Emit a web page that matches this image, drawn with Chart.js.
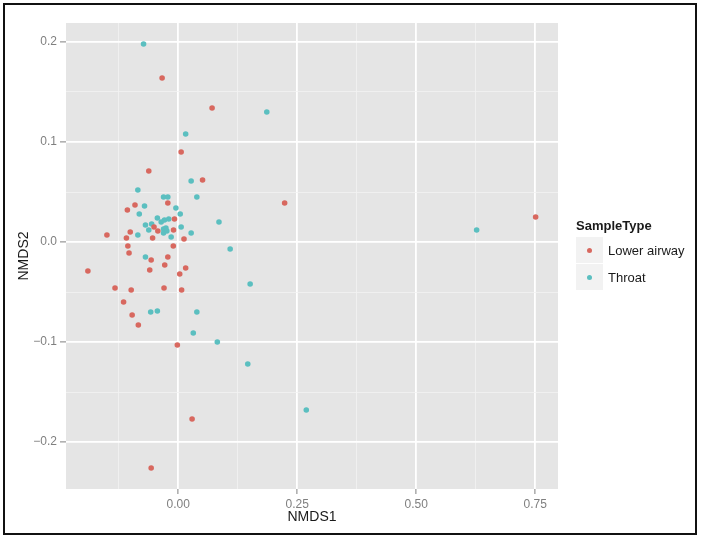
<!DOCTYPE html>
<html>
<head>
<meta charset="utf-8">
<script src="https://cdn.jsdelivr.net/npm/chart.js@4/dist/chart.umd.min.js"></script>
<style>
  body { margin: 0; background: #fff; }
  #contenedor { position: relative; width: 702px; height: 541px; font-family: "Liberation Sans", Arial, sans-serif; }
  #leyenda { position: absolute; left: 576px; top: 217px; color: #1a1a1a; }
  #leyenda .titulo { font-size: 13px; font-weight: bold; height: 20px; line-height: 18px; }
  #leyenda .fila { display: flex; align-items: center; height: 27px; }
  #leyenda .caja { width: 27px; height: 26px; background: #F2F2F2; border-bottom: 1px solid #fff; position: relative; }
  #leyenda .punto { position: absolute; left: 11px; top: 10.5px; width: 5px; height: 5px; border-radius: 50%; }
  #leyenda .texto { font-size: 13px; margin-left: 5px; }
</style>
</head>
<body>
<div id="contenedor">
  <canvas id="graficaNMDS" width="702" height="541"></canvas>
  <div id="leyenda">
    <div class="titulo">SampleType</div>
    <div class="fila"><div class="caja"><div class="punto" style="background:#D8685F"></div></div><span class="texto">Lower airway</span></div>
    <div class="fila"><div class="caja"><div class="punto" style="background:#5BBFC0"></div></div><span class="texto">Throat</span></div>
  </div>
</div>
<script>
// Datos
const lowerX = [-0.034, 0.071, 0.006, -0.062, 0.051, 0.2235, -0.022, -0.091, -0.107, -0.008,
                -0.051, -0.043, -0.010, -0.101, -0.150, -0.109, -0.054, 0.012, -0.106, -0.0105,
                -0.1035, -0.022, -0.057, -0.190, -0.0285, 0.0155, -0.060, 0.003, -0.133, -0.099,
                -0.030, 0.007, -0.115, -0.097, -0.084, -0.002, 0.029, -0.057, 0.751];
const lowerY = [0.164, 0.134, 0.090, 0.071, 0.062, 0.039, 0.039, 0.037, 0.032, 0.023,
                0.015, 0.011, 0.012, 0.010, 0.007, 0.004, 0.004, 0.003, -0.004, -0.004,
                -0.011, -0.015, -0.018, -0.029, -0.023, -0.026, -0.028, -0.032, -0.046, -0.048,
                -0.046, -0.048, -0.060, -0.073, -0.083, -0.103, -0.177, -0.226, 0.025];

const throatX = [-0.073, 0.186, 0.0155, 0.027, -0.085, 0.039, -0.031, -0.022, -0.071, -0.005,
                 -0.082, 0.004, -0.044, -0.036, -0.029, -0.020, 0.0855, -0.069, -0.056, 0.006,
                 -0.062, -0.031, -0.026, -0.031, -0.024, 0.027, -0.085, -0.015, 0.109, -0.069,
                 0.151, -0.058, -0.044, 0.039, 0.0315, 0.082, 0.146, 0.269, 0.627];
const throatY = [0.198, 0.130, 0.108, 0.061, 0.052, 0.045, 0.045, 0.045, 0.036, 0.034,
                 0.028, 0.028, 0.024, 0.020, 0.022, 0.023, 0.020, 0.017, 0.018, 0.015,
                 0.012, 0.013, 0.014, 0.009, 0.011, 0.009, 0.007, 0.005, -0.007, -0.015,
                 -0.042, -0.070, -0.069, -0.070, -0.091, -0.100, -0.122, -0.168, 0.012];

// Marcas de los ejes (mayores con etiqueta, menores solo rejilla)
const xMajor = [0, 0.25, 0.5, 0.75];
const xMinor = [-0.125, 0.125, 0.375, 0.625];
const yMajor = [-0.2, -0.1, 0, 0.1, 0.2];
const yMinor = [-0.15, -0.05, 0.05, 0.15];

const toPoints = (xs, ys) => xs.map((x, i) => ({ x: x, y: ys[i] }));
const minus = s => s.replace('-', '\u2212');

Chart.defaults.font.family = '"Liberation Sans", Arial, sans-serif';

// Fondo gris del panel y marco exterior
const panelGgplot = {
    id: 'panelGgplot',
    beforeDraw(chart) {
        const { ctx, chartArea: a } = chart;
        ctx.save();
        ctx.fillStyle = '#E5E5E5';
        ctx.fillRect(a.left, a.top, a.right - a.left, a.bottom - a.top);
        ctx.restore();
    },
    afterDraw(chart) {
        const ctx = chart.ctx;
        ctx.save();
        ctx.strokeStyle = '#111';
        ctx.lineWidth = 2;
        ctx.strokeRect(4, 4, 692, 530);
        ctx.restore();
    }
};

function gridOptions(majors, tickLen) {
    return {
        color: c => majors.includes(c.tick.value) ? '#FFFFFF' : '#F2F2F2',
        lineWidth: c => majors.includes(c.tick.value) ? 1.8 : 0.8,
        tickColor: c => majors.includes(c.tick.value) ? '#7F7F7F' : 'rgba(0,0,0,0)',
        tickLength: tickLen,
        tickWidth: 1
    };
}

const ctxNMDS = document.getElementById('graficaNMDS');

new Chart(ctxNMDS, {
    type: 'scatter',
    data: {
        datasets: [{
            label: 'Lower airway',
            data: toPoints(lowerX, lowerY),
            backgroundColor: '#D8685F',
            borderWidth: 0,
            pointRadius: 2.8
        }, {
            label: 'Throat',
            data: toPoints(throatX, throatY),
            backgroundColor: '#5BBFC0',
            borderWidth: 0,
            pointRadius: 2.8
        }]
    },
    options: {
        responsive: false,
        animation: false,
        layout: { padding: { top: 23, right: 144, left: 0, bottom: 0 } },
        plugins: {
            legend: { display: false },
            tooltip: { enabled: false }
        },
        scales: {
            x: {
                type: 'linear',
                min: -0.236,
                max: 0.798,
                afterBuildTicks: s => { s.ticks = xMinor.concat(xMajor).sort((a, b) => a - b).map(v => ({ value: v })); },
                afterFit: s => { s.height = 52; },
                ticks: {
                    autoSkip: false,
                    maxRotation: 0,
                    padding: 3,
                    color: '#7F7F7F',
                    font: { size: 12 },
                    callback: v => xMajor.includes(v) ? minus(v.toFixed(2)) : ''
                },
                grid: gridOptions(xMajor, 5),
                border: { display: false },
                title: {
                    display: true,
                    text: 'NMDS1',
                    color: '#1a1a1a',
                    font: { size: 14 },
                    padding: { top: 0, bottom: 15 }
                }
            },
            y: {
                type: 'linear',
                min: -0.247,
                max: 0.219,
                afterBuildTicks: s => { s.ticks = yMinor.concat(yMajor).sort((a, b) => a - b).map(v => ({ value: v })); },
                afterFit: s => { s.width = 66; },
                ticks: {
                    autoSkip: false,
                    padding: 3,
                    color: '#7F7F7F',
                    font: { size: 12 },
                    callback: v => yMajor.includes(v) ? minus(v.toFixed(1)) : ''
                },
                grid: gridOptions(yMajor, 6),
                border: { display: false },
                title: {
                    display: true,
                    text: 'NMDS2',
                    color: '#1a1a1a',
                    font: { size: 14 },
                    padding: { top: 16, bottom: 0 }
                }
            }
        }
    },
    plugins: [panelGgplot]
});
</script>
</body>
</html>
